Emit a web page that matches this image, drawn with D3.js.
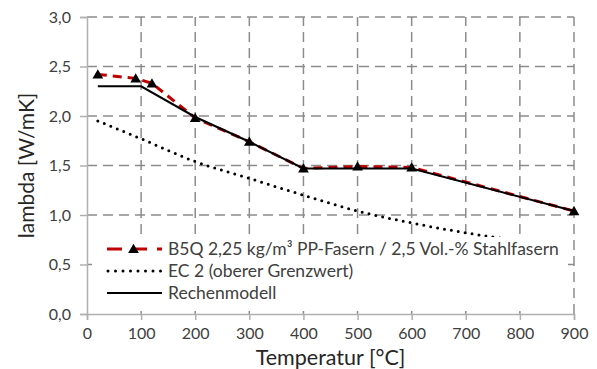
<!DOCTYPE html>
<html>
<head>
<meta charset="utf-8">
<script src="https://cdn.jsdelivr.net/npm/d3@7"></script>
<style>
  body { margin: 0; background: #fff; }
  svg { display: block; font-family: Lato, "Open Sans", sans-serif; }
</style>
</head>
<body>
<div id="chart"></div>
<script>
// Messreihe B5Q (rot gestrichelt, Dreiecke)
const b5qTemp = [20, 90, 120, 200, 300, 400, 500, 600, 900];
const b5qLambda = [2.42, 2.38, 2.33, 1.98, 1.74, 1.47, 1.49, 1.48, 1.04];

// EC 2 oberer Grenzwert (gepunktet)
const ecTemp = [20, 100, 200, 300, 400, 500, 600, 700, 800];
const ecLambda = [1.95, 1.77, 1.54, 1.37, 1.20, 1.04, 0.92, 0.82, 0.74];

// Rechenmodell (schwarz)
const modelTemp = [20, 100, 200, 300, 400, 600, 900];
const modelLambda = [2.30, 2.30, 1.99, 1.74, 1.47, 1.47, 1.04];

const xTicks = [0, 100, 200, 300, 400, 500, 600, 700, 800, 900];
const yTicks = [0, 0.5, 1.0, 1.5, 2.0, 2.5, 3.0];

const legendLabels = [
  "B5Q 2,25 kg/m³ PP-Fasern / 2,5 Vol.-% Stahlfasern",
  "EC 2 (oberer Grenzwert)",
  "Rechenmodell"
];

const width = 597, height = 369;
const margin = { top: 17, right: 23, bottom: 55, left: 87 };

const svg = d3.select("#chart").append("svg")
  .attr("width", width)
  .attr("height", height);

const x = d3.scaleLinear().domain([0, 900]).range([margin.left, width - margin.right]);
const y = d3.scaleLinear().domain([0, 3]).range([height - margin.bottom, margin.top]);

const gridColor = "#8c8c8c";
const textColor = "#404040";

// gridlines
svg.append("g")
  .selectAll("line")
  .data(yTicks.filter(d => d > 0))
  .join("line")
  .attr("x1", x(0)).attr("x2", x(900))
  .attr("y1", d => y(d)).attr("y2", d => y(d))
  .attr("stroke", gridColor)
  .attr("stroke-width", 1.5)
  .attr("stroke-dasharray", "10,6");

svg.append("g")
  .selectAll("line")
  .data(xTicks.filter(d => d > 0))
  .join("line")
  .attr("x1", d => x(d)).attr("x2", d => x(d))
  .attr("y1", y(0)).attr("y2", y(3))
  .attr("stroke", gridColor)
  .attr("stroke-width", 1.5)
  .attr("stroke-dasharray", "10,6");

// axes
const yAxis = svg.append("g")
  .attr("transform", `translate(${x(0)},0)`)
  .call(d3.axisLeft(y).tickValues(yTicks).tickSize(7).tickPadding(9)
    .tickFormat(d => d3.format(".1f")(d).replace(".", ",")));

const xAxis = svg.append("g")
  .attr("transform", `translate(0,${y(0)})`)
  .call(d3.axisBottom(x).tickValues(xTicks).tickSize(6).tickPadding(8));

[xAxis, yAxis].forEach(g => {
  g.select(".domain").attr("stroke", "#b0b0b0").attr("stroke-width", 1.5);
  g.selectAll(".tick line").attr("stroke", "#b0b0b0").attr("stroke-width", 1.5);
  g.selectAll(".tick text")
    .attr("fill", textColor)
    .style("font-size", "16px")
    .style("font-family", "Lato, 'Open Sans', sans-serif");
});

// series
svg.append("path")
  .datum(d3.zip(ecTemp, ecLambda))
  .attr("fill", "none")
  .attr("stroke", "#000")
  .attr("stroke-width", 3)
  .attr("stroke-linecap", "round")
  .attr("stroke-dasharray", "0,7")
  .attr("d", d3.line().x(d => x(d[0])).y(d => y(d[1])).curve(d3.curveMonotoneX));

svg.append("path")
  .datum(d3.zip(b5qTemp, b5qLambda))
  .attr("fill", "none")
  .attr("stroke", "#c00000")
  .attr("stroke-width", 3)
  .attr("stroke-dasharray", "9,6")
  .attr("d", d3.line().x(d => x(d[0])).y(d => y(d[1])));

svg.append("path")
  .datum(d3.zip(modelTemp, modelLambda))
  .attr("fill", "none")
  .attr("stroke", "#000")
  .attr("stroke-width", 2)
  .attr("d", d3.line().x(d => x(d[0])).y(d => y(d[1])));

svg.append("g")
  .selectAll("path")
  .data(d3.zip(b5qTemp, b5qLambda))
  .join("path")
  .attr("transform", d => `translate(${x(d[0])},${y(d[1]) + 1})`)
  .attr("d", d3.symbol().type(d3.symbolTriangle).size(50))
  .attr("fill", "#000");

// legend (white box over the grid)
const legend = svg.append("g");
legend.append("rect")
  .attr("x", 92).attr("y", 237)
  .attr("width", 476).attr("height", 74)
  .attr("fill", "#fff");

const rowY = [249, 271, 293];
const lx0 = 107, lx1 = 162;

legend.append("line")
  .attr("x1", lx0).attr("x2", lx1).attr("y1", rowY[0]).attr("y2", rowY[0])
  .attr("stroke", "#c00000").attr("stroke-width", 3).attr("stroke-dasharray", "15,10");
legend.append("path")
  .attr("transform", `translate(${(lx0 + lx1) / 2 - 1},${rowY[0] + 1})`)
  .attr("d", d3.symbol().type(d3.symbolTriangle).size(50))
  .attr("fill", "#000");
legend.append("line")
  .attr("x1", lx0 + 1).attr("x2", lx1).attr("y1", rowY[1]).attr("y2", rowY[1])
  .attr("stroke", "#000").attr("stroke-width", 3)
  .attr("stroke-linecap", "round").attr("stroke-dasharray", "0,7.5");
legend.append("line")
  .attr("x1", lx0).attr("x2", lx1).attr("y1", rowY[2]).attr("y2", rowY[2])
  .attr("stroke", "#000").attr("stroke-width", 2);

legend.selectAll("text")
  .data(legendLabels)
  .join("text")
  .attr("x", 168)
  .attr("y", (d, i) => rowY[i])
  .attr("dy", "0.35em")
  .attr("fill", textColor)
  .style("font-size", "17.5px")
  .text(d => d);

// axis titles
svg.append("text")
  .attr("x", (x(0) + x(900)) / 2)
  .attr("y", 357)
  .attr("dy", "0.35em")
  .attr("text-anchor", "middle")
  .attr("fill", "#262626")
  .style("font-size", "21.5px")
  .text("Temperatur [°C]");

svg.append("text")
  .attr("transform", `translate(27,${(y(0) + y(3)) / 2}) rotate(-90)`)
  .attr("dy", "0.35em")
  .attr("text-anchor", "middle")
  .attr("fill", "#262626")
  .style("font-size", "21px")
  .text("lambda [W/mK]");
</script>
</body>
</html>
